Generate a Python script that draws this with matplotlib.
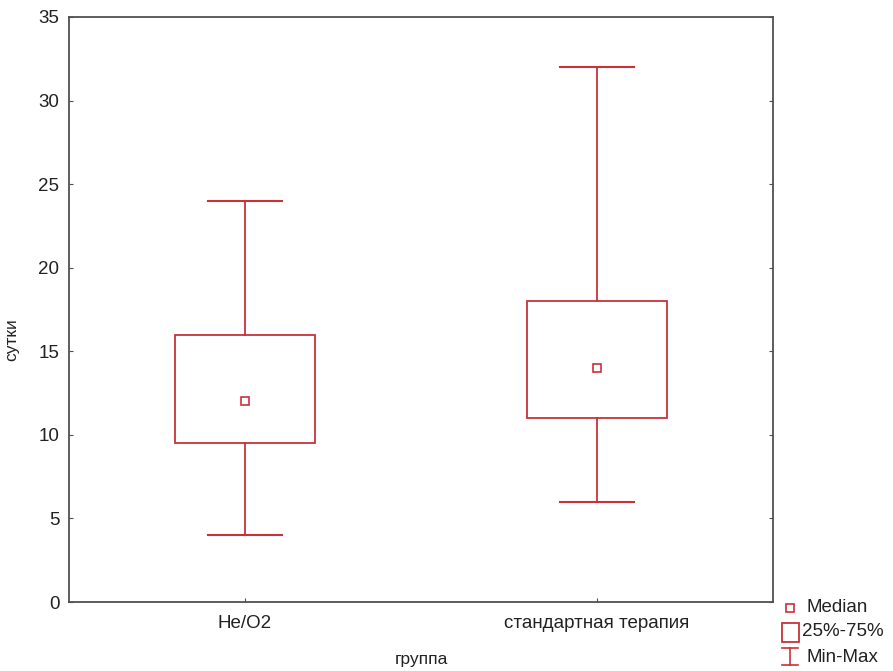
import matplotlib
matplotlib.use("Agg")
import matplotlib.pyplot as plt
from matplotlib.lines import Line2D
from matplotlib.patches import Rectangle

plt.rcParams['font.family'] = ['Liberation Sans', 'DejaVu Sans']

categories = ["He/O2", "стандартная терапия"]
medians = [12, 14]
q1 = [9.5, 11]
q3 = [16, 18]
mins = [4, 6]
maxs = [24, 32]
yticks = [0, 5, 10, 15, 20, 25, 30, 35]

red = "#c8323a"
axcol = "#505050"
txt = "#222222"
FS = 13.5

fig = plt.figure(figsize=(8.93, 6.71), dpi=100)
ax = fig.add_axes([0.0773, 0.1028, 0.7883, 0.8719])

pos = list(range(len(categories)))
bw = 0.4
cw = 0.21
for p, md, a, b, lo, hi in zip(pos, medians, q1, q3, mins, maxs):
    ax.add_patch(Rectangle((p - bw / 2, a), bw, b - a, fill=False, edgecolor=red, lw=1.3))
    ax.plot([p, p], [b, hi], color=red, lw=1.3)
    ax.plot([p, p], [lo, a], color=red, lw=1.3)
    ax.plot([p - cw / 2, p + cw / 2], [hi, hi], color=red, lw=1.5)
    ax.plot([p - cw / 2, p + cw / 2], [lo, lo], color=red, lw=1.5)
    ax.plot([p], [md], marker='s', ms=5.5, mfc='white', mec=red, mew=1.2, ls='none')

ax.set_xlim(-0.5, 1.5)
ax.set_ylim(0, 35)
ax.set_xticks(pos)
ax.set_xticklabels(categories, fontsize=FS, color=txt)
ax.set_yticks(yticks)
ax.set_yticklabels([str(t) for t in yticks], fontsize=FS, color=txt)
ax.tick_params(axis='y', direction='in', length=3, color=axcol, right=True, left=True, pad=7)
ax.tick_params(axis='x', direction='in', length=3, color=axcol, pad=9)
for s in ax.spines.values():
    s.set_color(axcol)
    s.set_linewidth(1.3)

ax.set_xlabel("группа", fontsize=12.5, color=txt)
ax.set_ylabel("сутки", fontsize=12.5, color=txt)
ax.xaxis.set_label_coords(0.5, -0.099)
ax.yaxis.set_label_coords(-0.081, 0.448)
ax.xaxis.label.set_va('center')
ax.yaxis.label.set_va('center')

# legend drawn in figure coordinates
W, H = 893, 671
def fx(x):
    return x / W
def fy(y):
    return 1 - y / H

fig.add_artist(Line2D([fx(790)], [fy(608)], marker='s', ms=5.5, mfc='white', mec=red, mew=1.2, ls='none'))
fig.text(fx(806), fy(608), "Median", fontsize=FS, va='center', ha='left', color=txt)
fig.add_artist(Rectangle((fx(782), fy(642)), 17 / W, 19 / H, fill=False, edgecolor=red, lw=1.3))
fig.text(fx(802), fy(632), "25%-75%", fontsize=FS, va='center', ha='left', color=txt)
fig.add_artist(Line2D([fx(790), fx(790)], [fy(648), fy(665)], color=red, lw=1.2))
fig.add_artist(Line2D([fx(782), fx(798)], [fy(648), fy(648)], color=red, lw=1.2))
fig.add_artist(Line2D([fx(782), fx(798)], [fy(665), fy(665)], color=red, lw=1.2))
fig.text(fx(806), fy(657), "Min-Max", fontsize=FS, va='center', ha='left', color=txt)

fig.savefig("out.png", dpi=100)
